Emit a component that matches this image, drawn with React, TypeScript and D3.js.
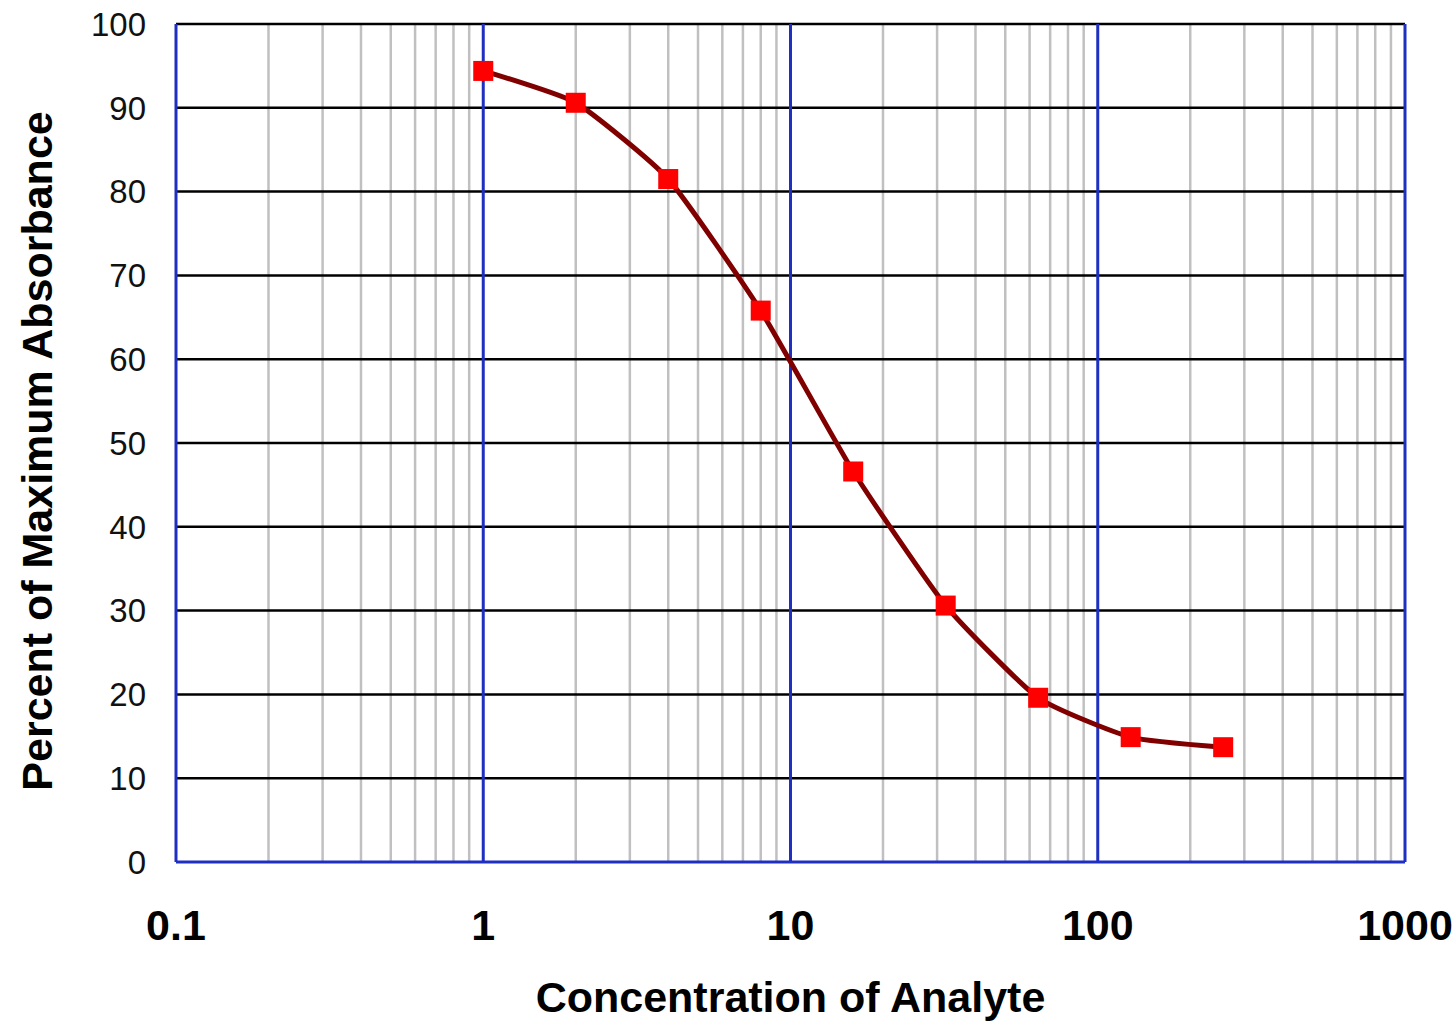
import React from "react";
import * as d3 from "d3";

// concentration (x) vs percent of max absorbance (y)
const concentrations = [1, 2, 4, 8, 16, 32, 64, 128, 256];
const percentAbs = [94.4, 90.6, 81.5, 65.8, 46.6, 30.6, 19.6, 14.9, 13.7];
const xTickLabels = [0.1, 1, 10, 100, 1000];
const yTickLabels = [0, 10, 20, 30, 40, 50, 60, 70, 80, 90, 100];

const width = 1456;
const height = 1024;
const margin = { top: 24, right: 51, bottom: 162, left: 176 };

const font = "'Liberation Sans', Arial, Helvetica, sans-serif";

const App = () => {
  const x = d3
    .scaleLog()
    .domain([0.1, 1000])
    .range([margin.left, width - margin.right]);
  const y = d3
    .scaleLinear()
    .domain([0, 100])
    .range([height - margin.bottom, margin.top]);

  // minor log grid (2..9 in each decade)
  const minor: number[] = [];
  for (let d = 0; d < xTickLabels.length - 1; d++) {
    for (let k = 2; k <= 9; k++) minor.push(xTickLabels[d] * k);
  }

  const line = d3
    .line<number>()
    .x((d, i) => x(concentrations[i]))
    .y((d) => y(d))
    .curve(d3.curveCardinal.tension(0.5));

  const [y0, y1] = y.range();
  const [x0, x1] = x.range();

  return (
    <svg
      width={width}
      height={height}
      style={{ position: "absolute", left: 0, top: 0, background: "#fff" }}
    >
      {/* gray minor verticals */}
      {minor.map((m) => (
        <line
          key={"m" + m}
          x1={x(m)}
          x2={x(m)}
          y1={y0}
          y2={y1}
          stroke="#c0c0c0"
          strokeWidth={2.5}
        />
      ))}
      {/* black horizontals */}
      {yTickLabels.slice(1).map((t) => (
        <line
          key={"h" + t}
          x1={x0}
          x2={x1}
          y1={y(t)}
          y2={y(t)}
          stroke="#000"
          strokeWidth={2.5}
        />
      ))}
      {/* blue decades */}
      {xTickLabels.map((t) => (
        <line
          key={"d" + t}
          x1={x(t)}
          x2={x(t)}
          y1={y0}
          y2={y1}
          stroke="#1f2fc0"
          strokeWidth={3}
        />
      ))}
      <line x1={x0} x2={x1} y1={y0} y2={y0} stroke="#1f2fc0" strokeWidth={3} />

      {/* y tick labels */}
      {yTickLabels.map((t) => (
        <text
          key={"yl" + t}
          x={146}
          y={y(t)}
          dy="0.36em"
          textAnchor="end"
          fontFamily={font}
          fontSize={33}
          fill="#111"
        >
          {t}
        </text>
      ))}
      {/* x tick labels */}
      {xTickLabels.map((t) => (
        <text
          key={"xl" + t}
          x={x(t)}
          y={940}
          textAnchor="middle"
          fontFamily={font}
          fontSize={43}
          fontWeight="bold"
          fill="#000"
        >
          {t}
        </text>
      ))}

      {/* series */}
      <path
        d={line(percentAbs) || ""}
        fill="none"
        stroke="#800000"
        strokeWidth={5}
      />
      {percentAbs.map((v, i) => (
        <rect
          key={"p" + i}
          x={x(concentrations[i]) - 10}
          y={y(v) - 10}
          width={20}
          height={20}
          fill="#ff0000"
        />
      ))}

      {/* axis titles */}
      <text
        x={(x0 + x1) / 2}
        y={1012}
        textAnchor="middle"
        fontFamily={font}
        fontSize={43}
        fontWeight="bold"
      >
        Concentration of Analyte
      </text>
      <text
        transform={`translate(52,451) rotate(-90)`}
        textAnchor="middle"
        fontFamily={font}
        fontSize={43}
        fontWeight="bold"
      >
        Percent of Maximum Absorbance
      </text>
    </svg>
  );
};

export default App;
